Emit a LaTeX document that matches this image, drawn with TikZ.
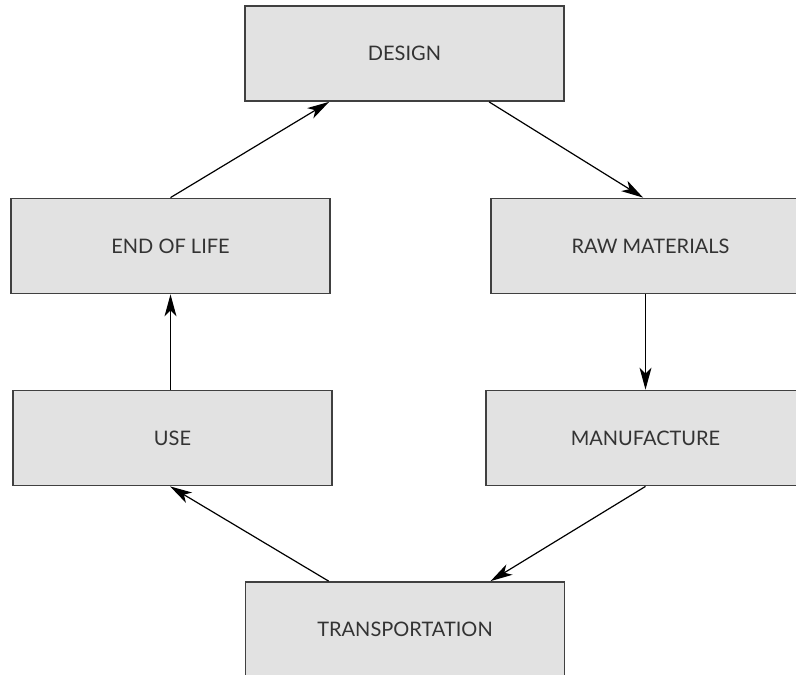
\documentclass[tikz,border=0pt]{standalone}
\usepackage{fontspec}
\setmainfont{Lato}
\usetikzlibrary{arrows.meta,calc}
\definecolor{boxfill}{HTML}{E2E2E2}
\definecolor{boxline}{HTML}{404040}
\definecolor{txt}{HTML}{333333}
\tikzset{
  stage/.style={rectangle, draw=boxline, line width=1.8pt, fill=boxfill,
    minimum width=319pt, minimum height=95pt, inner sep=0pt,
    text=txt, font=\fontsize{20}{24}\selectfont},
  flow/.style={line width=1.2pt, draw=black,
    -{Stealth[length=22pt,width=12pt,inset=6pt]}}
}
\begin{document}
\begin{tikzpicture}[x=1pt,y=-1pt]
\useasboundingbox (0,0) rectangle (796,675);
\clip (0,0) rectangle (796,675);
\node[stage] (design) at (404.5,53.5) {DESIGN};
\node[stage] (eol)    at (170.5,246) {END OF LIFE};
\node[stage] (raw)    at (650.5,246) {RAW MATERIALS};
\node[stage] (use)    at (172.5,438) {USE};
\node[stage] (manu)   at (645.5,438) {MANUFACTURE};
\node[stage] (trans)  at (405,629.5) {TRANSPORTATION};
\draw[flow] (eol.north) -- ($(design.south west)+(85,0)$);
\draw[flow] ($(design.south west)+(245,0)$) -- ($(raw.north west)+(153,0)$);
\draw[flow] (raw.south -| manu.north) -- (manu.north);
\draw[flow] (manu.south) -- ($(trans.north west)+(246,0)$);
\draw[flow] ($(trans.north west)+(84,0)$) -- ($(use.south west)+(158,0)$);
\draw[flow] (use.north -| eol.south) -- (eol.south);
\end{tikzpicture}
\end{document}
